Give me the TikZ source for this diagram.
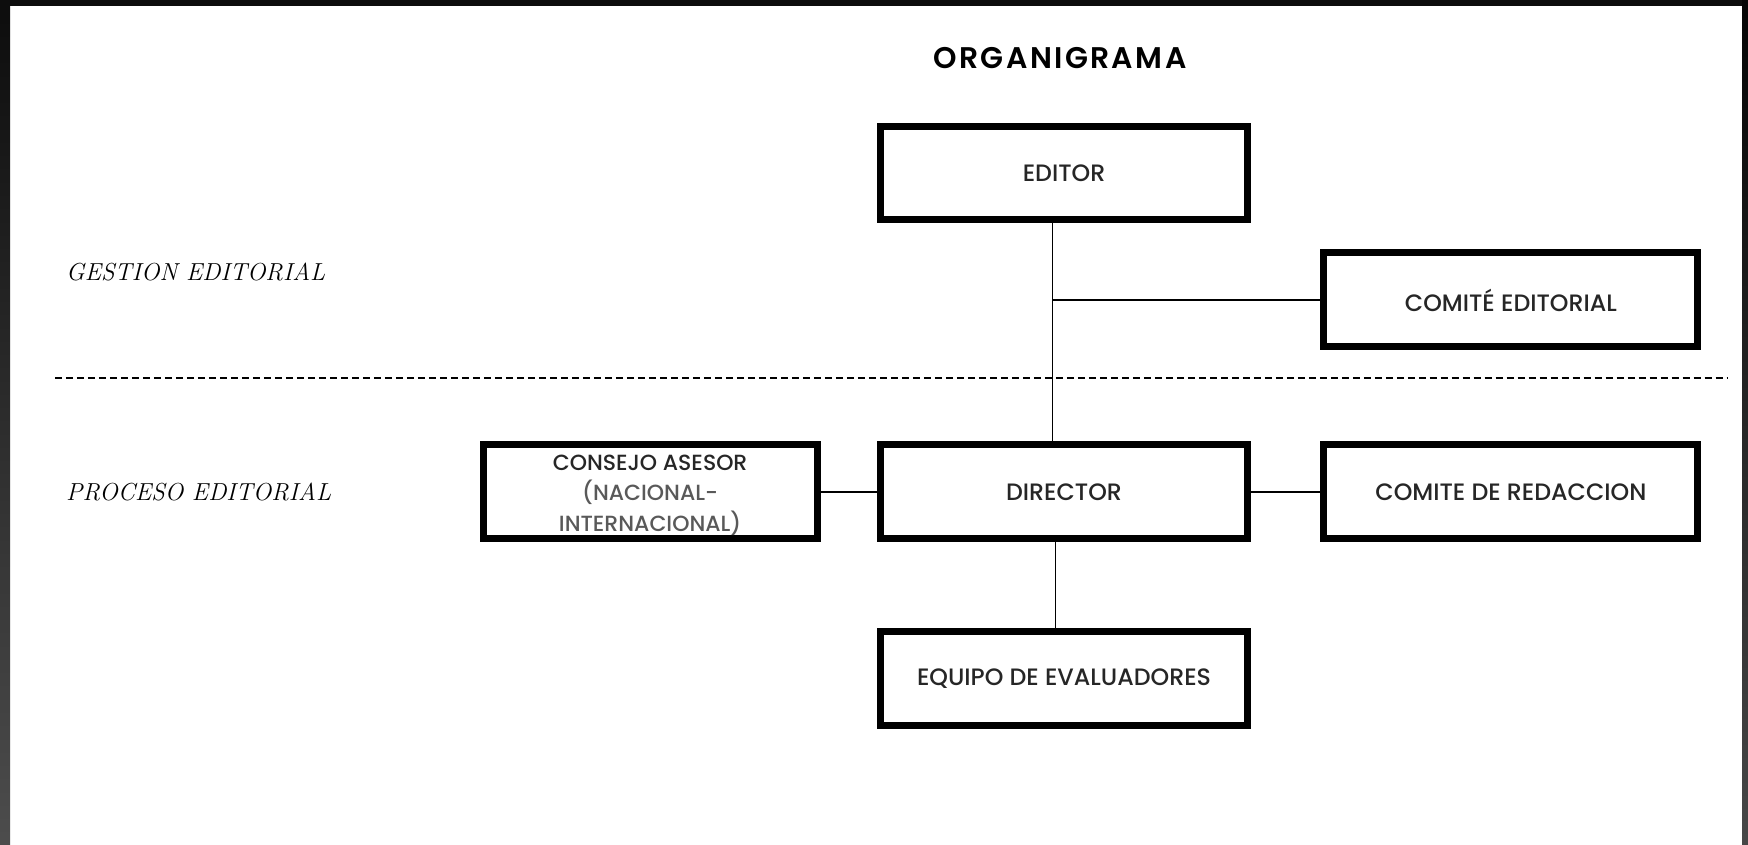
\documentclass[tikz,border=0pt]{standalone}
\usepackage{fontspec}
\usepackage{tikz}
\usetikzlibrary{positioning}
\newfontfamily\boxfont{Poppins Medium}
\newfontfamily\titlefont[LetterSpace=8]{Poppins SemiBold}

\begin{document}
\begin{tikzpicture}
        [ x = 0.02cm
        , y = -0.02cm
        , unit/.style =
          { draw, line width = 0.14cm, minimum width = 7.36cm, minimum height = 1.88cm
          , inner sep = 0pt, align = center, text = black!85
          , font = \boxfont\fontsize{13.5}{19}\selectfont }
        , side/.style =
          { minimum width = 7.48cm }
        , edge/.style =
          { line width = 0.9pt }
        , divider/.style =
          { line width = 0.8pt, dash pattern = on 0.14cm off 0.08cm }
        , level/.style =
          { anchor = west, font = \itshape\fontsize{14}{16}\selectfont }
        ]
        \useasboundingbox (0,0) rectangle (1748,845);
        \fill [white] (0,0) rectangle (1748,845);
        \fill [black!95] (0,0) rectangle (1748,6);
        \shade [top color=black!95, middle color=black!92, bottom color=black!70] (0,0) rectangle (10,845);
        \shade [top color=black!98, middle color=black!92, bottom color=black!72] (1742,0) rectangle (1748,845);

        \node [font=\titlefont\fontsize{17}{20}\selectfont] (title) at (1060,58) {ORGANIGRAMA};
        \node [level] (gestion) at (60,272) {GESTION EDITORIAL};
        \node [level] (proceso) at (60,492) {PROCESO EDITORIAL};

        \node [unit] (editor) at (1064,173) {EDITOR};
        \node [unit] (director) [below=4.36cm of editor] {DIRECTOR};
        \node [unit] (equipo) [below=1.72cm of director] {EQUIPO DE EVALUADORES};
        \node [unit, minimum width=6.68cm, font=\boxfont\fontsize{12.5}{17.5}\selectfont] (consejo) [left=1.12cm of director]
          {\rule{0pt}{12.5pt}CONSEJO ASESOR\\ {\color{black!65}(NACIONAL-}\\ {\color{black!65}INTERNACIONAL)}};
        \node [unit, side] (redaccion) [right=1.38cm of director] {COMITE DE REDACCION};
        \node [unit, side] (comite) [above=1.82cm of redaccion] {COMITÉ EDITORIAL};

        \coordinate (divL) at (55,378);
        \coordinate (divR) at (1728,378);
        \draw [divider] (divL) -- (divR);

        \coordinate (spine) at ([xshift=-0.23cm]editor.south);
        \draw [edge] (spine) -- (spine |- director.north);
        \draw [edge] (comite.west) -- (comite.west -| spine);
        \draw [edge] (consejo) -- (director);
        \draw [edge] (director) -- (redaccion);
        \draw [edge] ([xshift=-0.17cm]director.south) -- ([xshift=-0.17cm]equipo.north);
      \end{tikzpicture}
\end{document}
